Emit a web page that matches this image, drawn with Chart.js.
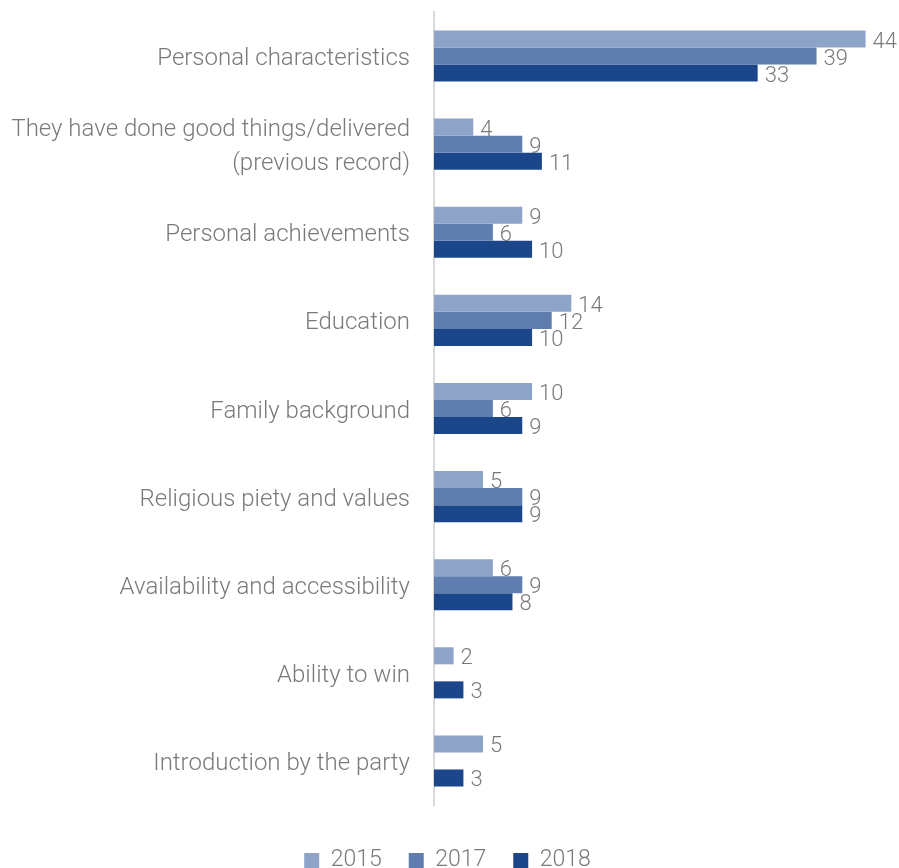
<!DOCTYPE html>
<html>
<head>
<meta charset="utf-8">
<script src="https://cdn.jsdelivr.net/npm/chart.js@4/dist/chart.umd.min.js"></script>
<style>
	html, body { margin: 0; padding: 0; background: #fff; }
	#chart { display: block; }
</style>
</head>
<body>
<canvas id="chart" width="899" height="868"></canvas>
<script>
"use strict";


const labelColor = "#7a7a7a";
const axisColor = "#d9d9d9";
const fontFamily = "Roboto, 'Liberation Sans', sans-serif";

const seriesColors = ["#8da3c8", "#5f7daf", "#1b468a"];

const categories = [
	"Personal characteristics",
	["They have done good things/delivered", "(previous record)"],
	"Personal achievements",
	"Education",
	"Family background",
	"Religious piety and values",
	"Availability and accessibility",
	"Ability to win",
	"Introduction by the party",
];

const years = ["2015", "2017", "2018"];

const values2015 = [44, 4, 9, 14, 10, 5, 6, 2, 5];
const values2017 = [39, 9, 6, 12, 6, 9, 9, null, null];
const values2018 = [33, 11, 10, 10, 9, 9, 8, 3, 3];


// numbers written just past the end of each bar
const valueLabels = {
	id: "valueLabels",
	afterDatasetsDraw(chart) {
		const ctx = chart.ctx;
		ctx.save();
		ctx.font = "300 22px " + fontFamily;
		ctx.fillStyle = labelColor;
		ctx.textAlign = "left";
		ctx.textBaseline = "middle";
		chart.data.datasets.forEach((set, i) => {
			const meta = chart.getDatasetMeta(i);
			meta.data.forEach((bar, j) => {
				const value = set.data[j];
				if (value == null) {
					return;
				}
				ctx.fillText(String(value), bar.x + 7, bar.y + 3);
			});
		});
		ctx.restore();
	}
};

// push the legend row a little lower, under the axis
const legendOffset = {
	id: "legendOffset",
	afterLayout(chart) {
		const legend = chart.legend;
		legend.top += 17;
		legend.bottom += 17;
		legend.adjustHitBoxes();
	}
};


const ctx = document.getElementById("chart").getContext("2d");

new Chart(ctx, {
	type: "bar",
	data: {
		labels: categories,
		datasets: [values2015, values2017, values2018].map((data, i) => ({
			label: years[i],
			data: data,
			backgroundColor: seriesColors[i],
			borderWidth: 0,
			barPercentage: 1,
			categoryPercentage: 0.58,
		})),
	},
	options: {
		indexAxis: "y",
		responsive: false,
		animation: false,
		layout: {
			padding: { top: 12, right: 4, bottom: 3, left: 0 },
		},
		plugins: {
			tooltip: { enabled: false },
			legend: {
				position: "bottom",
				labels: {
					color: labelColor,
					boxWidth: 15,
					boxHeight: 15,
					padding: 27,
					font: { family: fontFamily, size: 23, weight: 300 },
				},
			},
		},
		scales: {
			x: {
				display: false,
				min: 0,
				max: 47,
			},
			y: {
				afterFit(scale) {
					scale.width = 434;
					scale.paddingTop = 0;
					scale.paddingBottom = 0;
				},
				grid: { display: false },
				border: { color: axisColor, width: 2 },
				ticks: {
					color: labelColor,
					padding: 16,
					labelOffset: 3,
					font: { family: fontFamily, size: 24, weight: 300, lineHeight: 1.4 },
				},
			},
		},
	},
	plugins: [valueLabels, legendOffset],
});
</script>
</body>
</html>
